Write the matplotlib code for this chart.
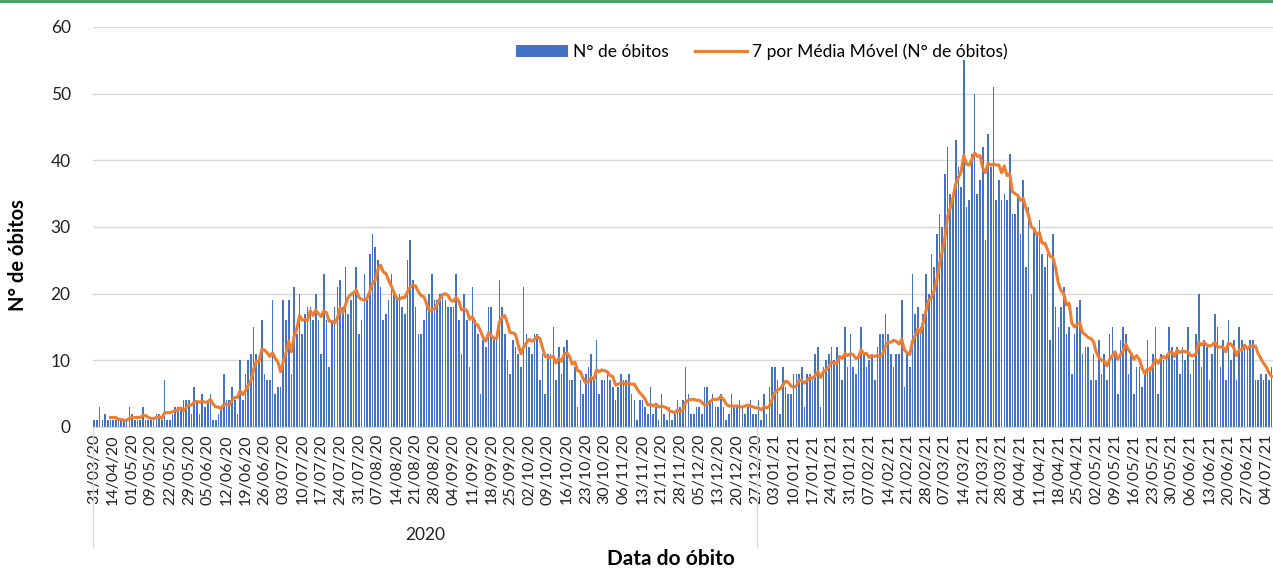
import matplotlib.pyplot as plt
import matplotlib.lines as mlines
import numpy as np
import pandas as pd

plt.rcParams['font.family'] = ['Lato', 'DejaVu Sans']

# rótulos do eixo (um a cada 7 categorias)
tick_labels = [
    '31/03/20', '14/04/20', '01/05/20', '09/05/20', '22/05/20', '29/05/20', '05/06/20',
    '12/06/20', '19/06/20', '26/06/20', '03/07/20', '10/07/20', '17/07/20', '24/07/20',
    '31/07/20', '07/08/20', '14/08/20', '21/08/20', '28/08/20', '04/09/20', '11/09/20',
    '18/09/20', '25/09/20', '02/10/20', '09/10/20', '16/10/20', '23/10/20', '30/10/20',
    '06/11/20', '13/11/20', '21/11/20', '28/11/20', '05/12/20', '13/12/20', '20/12/20',
    '27/12/20', '03/01/21', '10/01/21', '17/01/21', '24/01/21', '31/01/21', '07/02/21',
    '14/02/21', '21/02/21', '28/02/21', '07/03/21', '14/03/21', '21/03/21', '28/03/21',
    '04/04/21', '11/04/21', '18/04/21', '25/04/21', '02/05/21', '09/05/21', '16/05/21',
    '23/05/21', '30/05/21', '06/06/21', '13/06/21', '20/06/21', '27/06/21', '04/07/21',
]

# N° de óbitos por dia
obitos = [
    1, 1, 3, 1, 2, 1, 1, 1, 1, 1,
    1, 1, 1, 3, 2, 1, 1, 1, 3, 1,
    1, 1, 1, 2, 2, 1, 7, 1, 1, 2,
    3, 3, 3, 4, 4, 4, 2, 6, 4, 2,
    5, 3, 4, 5, 1, 1, 2, 3, 8, 4,
    4, 6, 4, 2, 10, 4, 8, 10, 11, 15,
    11, 10, 16, 8, 7, 7, 19, 5, 6, 6,
    19, 16, 19, 8, 21, 14, 20, 14, 17, 18,
    18, 16, 20, 16, 11, 23, 16, 9, 16, 18,
    21, 22, 18, 24, 17, 19, 20, 24, 14, 16,
    23, 19, 26, 29, 27, 25, 21, 16, 17, 19,
    23, 20, 19, 20, 18, 17, 25, 28, 22, 18,
    14, 14, 16, 18, 20, 23, 19, 19, 20, 20,
    19, 18, 18, 18, 23, 16, 11, 20, 16, 9,
    21, 16, 14, 5, 13, 12, 18, 18, 13, 14,
    22, 18, 14, 10, 8, 13, 12, 11, 9, 21,
    14, 12, 11, 14, 14, 7, 11, 5, 11, 11,
    15, 7, 12, 8, 12, 13, 7, 7, 9, 3,
    7, 5, 8, 9, 11, 7, 13, 5, 7, 7,
    8, 7, 6, 4, 6, 8, 7, 7, 8, 5,
    4, 1, 4, 4, 3, 2, 6, 2, 3, 1,
    5, 2, 1, 3, 1, 2, 4, 3, 4, 9,
    5, 2, 2, 3, 3, 2, 6, 6, 4, 5,
    3, 3, 5, 3, 1, 2, 5, 3, 3, 4,
    3, 2, 3, 4, 2, 2, 4, 1, 5, 2,
    6, 9, 9, 7, 2, 9, 6, 5, 5, 8,
    8, 8, 9, 3, 8, 8, 7, 11, 12, 3,
    9, 10, 11, 12, 10, 12, 10, 7, 15, 9,
    14, 9, 8, 11, 15, 11, 9, 10, 11, 7,
    12, 14, 14, 17, 14, 11, 9, 11, 11, 19,
    6, 11, 9, 23, 17, 18, 15, 17, 23, 20,
    26, 24, 29, 32, 30, 38, 42, 35, 35, 43,
    39, 36, 55, 33, 34, 41, 50, 35, 37, 42,
    28, 44, 39, 51, 34, 37, 34, 35, 34, 41,
    32, 32, 35, 29, 37, 24, 33, 20, 30, 29,
    31, 26, 24, 26, 13, 29, 18, 15, 18, 21,
    14, 15, 8, 14, 18, 19, 11, 12, 12, 7,
    11, 7, 13, 8, 11, 7, 14, 15, 11, 5,
    13, 15, 14, 8, 11, 5, 9, 9, 6, 8,
    13, 9, 11, 15, 5, 11, 10, 11, 15, 12,
    10, 12, 8, 12, 10, 15, 8, 10, 14, 20,
    9, 13, 12, 7, 11, 17, 15, 9, 13, 7,
    16, 10, 13, 7, 15, 13, 12, 12, 13, 13,
    7, 7, 8, 7, 8, 7, 9,
]

year_label = '2020'
year_end = 245.5   # fronteira entre 2020 e 2021 no eixo de categorias

media_movel = pd.Series(obitos).rolling(7).mean()
x = np.arange(len(obitos))

fig = plt.figure(figsize=(12.73, 5.69), dpi=100)
ax = fig.add_axes([0.073, 0.2496, 0.927, 0.703])

bars = ax.bar(x, obitos, width=0.6, color='#4472C4', label='N° de óbitos', zorder=2)
line, = ax.plot(x, media_movel, color='#ED7D31', lw=2.2,
                label='7 por Média Móvel (N° de óbitos)', zorder=3)

ax.set_xlim(-0.5, len(obitos) - 0.5)
ax.set_ylim(0, 60)
ax.set_yticks(range(0, 61, 10))
ax.grid(axis='y', color='#d9d9d9', lw=1)
ax.set_axisbelow(True)
for s in ['top', 'right', 'left']:
    ax.spines[s].set_visible(False)
ax.spines['bottom'].set_color('#d9d9d9')

ax.set_xticks(range(0, len(tick_labels) * 7, 7))
ax.set_xticklabels(tick_labels, rotation=90, fontsize=11.5, color='#222222')
ax.tick_params(axis='x', length=0, pad=5)
ax.tick_params(axis='y', length=0, pad=16, labelsize=12.5, labelcolor='#222222')

# linhas do agrupamento por ano
trans = ax.get_xaxis_transform()
for xp in [-0.5, year_end]:
    ax.plot([xp, xp], [0, -0.3], transform=trans, clip_on=False,
            color='#d9d9d9', lw=1)
ax.text((year_end - 0.5) / 2, -0.27, year_label, transform=trans,
        ha='center', va='center', fontsize=12.5, color='#222222')

fig.text(671 / 1273, 1 - 559 / 569, 'Data do óbito', ha='center', va='center',
         fontsize=15, fontweight='bold')
fig.text(18 / 1273, 1 - 255 / 569, 'N° de óbitos', ha='center', va='center',
         rotation=90, fontsize=14.5, fontweight='bold')

fig.legend(handles=[bars, line], loc='center',
           bbox_to_anchor=(762 / 1273, 1 - 52 / 569), ncol=2,
           frameon=False, fontsize=12.5, handlelength=3.0, columnspacing=1.5,
           handletextpad=0.3)

fig.add_artist(mlines.Line2D([0, 1], [0.998, 0.998], color='#3a9d5d', lw=2))

fig.savefig('out.png', dpi=100)
